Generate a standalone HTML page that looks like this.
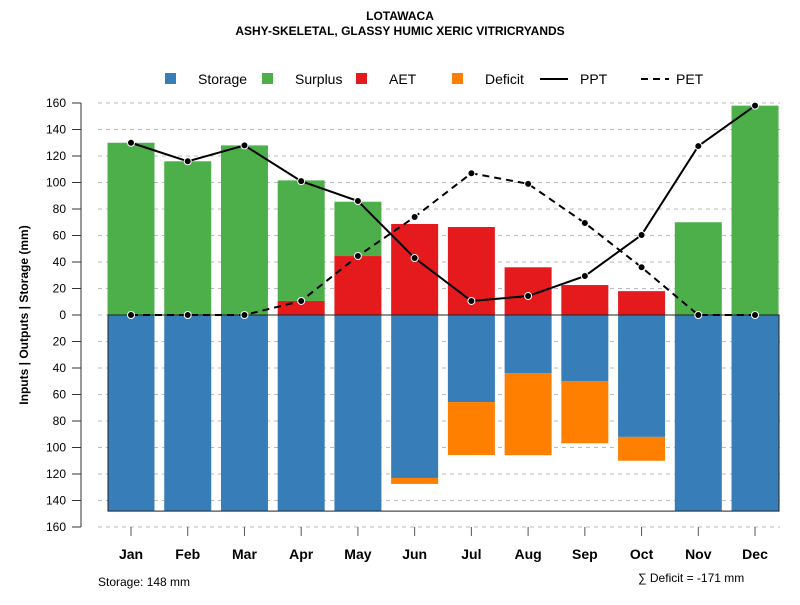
<!DOCTYPE html>
<html><head><meta charset="utf-8"><style>body{margin:0;background:#fff}svg{font-family:"Liberation Sans",sans-serif}</style></head>
<body>
<svg id="c" width="800" height="600"></svg>
<script>
const months=["Jan","Feb","Mar","Apr","May","Jun","Jul","Aug","Sep","Oct","Nov","Dec"];
const surplus=[130,116,128,91,41,0,0,0,0,0,70,158];
const aet=[0,0,0,10.6,44.5,68.7,66.4,36,22.6,18,0,0];
const storage=[148,148,148,148,148,123,65.7,43.8,49.8,92,148,148];
const deficit=[0,0,0,0,0,4.5,40,62,47,18,0,0];
const ppt=[130,116,128,101,86,43,10.6,14.3,29.4,60.4,127.5,158];
const pet=[0,0,0,10.6,44.5,74,107,99,69.4,36,0,0];
const yTicks=[160,140,120,100,80,60,40,20,0,20,40,60,80,100,120,140,160];
const NS="http://www.w3.org/2000/svg",svg=document.getElementById("c");
function el(t,a,p){const e=document.createElementNS(NS,t);for(const k in a)e.setAttribute(k,a[k]);(p||svg).appendChild(e);return e;}
const y=v=>315-v*1.325, x=i=>131+i*56.73, bw=47;
// title
let t=el("text",{x:400,y:20,"text-anchor":"middle","font-size":12,"font-weight":"bold"});t.textContent="LOTAWACA";

t=el("text",{x:400,y:35,"text-anchor":"middle","font-size":12,"font-weight":"bold"});t.textContent="ASHY-SKELETAL, GLASSY HUMIC XERIC VITRICRYANDS";

// grid and y axis
el("line",{x1:81,x2:81,y1:103,y2:527,stroke:"#777","stroke-width":1.5});
yTicks.forEach((v,k)=>{const py=103+k*26.5;
 const g=el("line",{x1:98,x2:780,y1:py,y2:py,stroke:"#bbb","stroke-dasharray":"4,4"});
 
 el("line",{x1:72,x2:81,y1:py,y2:py,stroke:"#333"});
 const l=el("text",{x:66,y:py+4,"text-anchor":"end","font-size":12});l.textContent=v;
 
});
t=el("text",{transform:"translate(28,315) rotate(-90)","text-anchor":"middle","font-size":12,"font-weight":"bold"});t.textContent="Inputs | Outputs | Storage    (mm)";

// bars
months.forEach((m,i)=>{const x0=x(i)-bw/2;
 let r;
 if(aet[i]>0){r=el("rect",{x:x0,y:y(aet[i]),width:bw,height:aet[i]*1.325,fill:"#e41a1c"});}
 if(surplus[i]>0){r=el("rect",{x:x0,y:y(aet[i]+surplus[i]),width:bw,height:surplus[i]*1.325,fill:"#4daf4a"});}
 r=el("rect",{x:x0,y:315,width:bw,height:storage[i]*1.325,fill:"#377eb8"});
 if(deficit[i]>0){r=el("rect",{x:x0,y:y(-storage[i]),width:bw,height:deficit[i]*1.325,fill:"#ff7f00"});}
 el("line",{x1:x(i),x2:x(i),y1:527,y2:536,stroke:"#555"});
 const l=el("text",{x:x(i),y:559,"text-anchor":"middle","font-size":14,"font-weight":"bold"});l.textContent=m;
 
});
el("rect",{x:108,y:315,width:671,height:148*1.325,fill:"none",stroke:"#222","stroke-width":1});
// lines
function line(vals,dash,name){const p=el("polyline",{points:vals.map((v,i)=>x(i)+","+y(v)).join(" "),fill:"none",stroke:"#000","stroke-width":2,"stroke-dasharray":dash});
 
 vals.forEach((v,i)=>{const c=el("circle",{cx:x(i),cy:y(v),r:3.5,fill:"#000",stroke:"#fff","stroke-width":1});});}
line(pet,"7,5","pet-line");line(ppt,"","ppt-line");
// legend
const lg=[["Storage","#377eb8",165],["Surplus","#4daf4a",262],["AET","#e41a1c",356],["Deficit","#ff7f00",452]];
lg.forEach(([n,c,lx])=>{const g=el("g",{});
 el("rect",{x:lx,y:73,width:11,height:11,fill:c},g);const tx=el("text",{x:lx+33,y:84,"font-size":14},g);tx.textContent=n;});
[["PPT","",540,580],["PET","7,5",641,676]].forEach(([n,d,lx,tx0])=>{const g=el("g",{});
 el("line",{x1:lx,x2:lx+28,y1:79,y2:79,stroke:"#000","stroke-width":2,"stroke-dasharray":d},g);const tx=el("text",{x:tx0,y:84,"font-size":14},g);tx.textContent=n;});
t=el("text",{x:98,y:586,"font-size":12});t.textContent="Storage: 148 mm";
t=el("text",{x:638,y:582,"font-size":12});t.textContent="∑ Deficit = -171 mm";
</script>
</body></html>
